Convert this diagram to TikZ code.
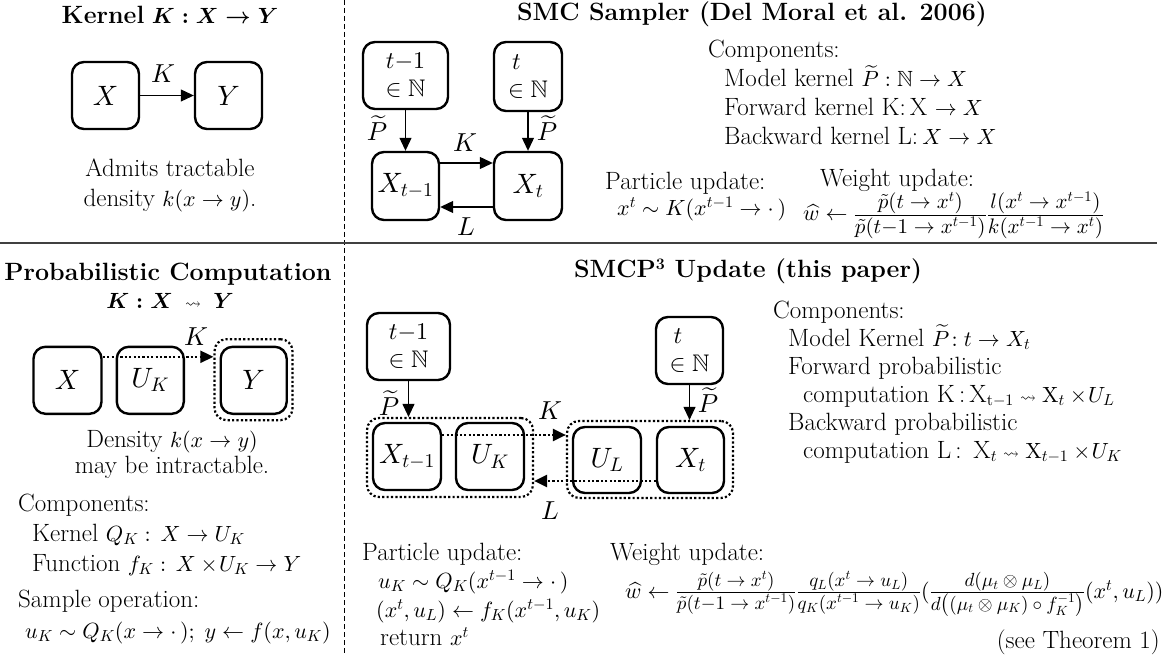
\documentclass[tikz,border=0pt]{standalone}
\usepackage{amsmath,amssymb}
\usetikzlibrary{arrows.meta}
% scalable math fonts for the large type used below
\DeclareFontShape{OML}{cmm}{m}{it}{<-6> cmmi5 <6-8> cmmi7 <8-> cmmi10}{}
\DeclareFontShape{OML}{cmm}{b}{it}{<-8> cmmib7 <8-> cmmib10}{}
\DeclareFontShape{OMS}{cmsy}{m}{n}{<-6> cmsy5 <6-8> cmsy7 <8-> cmsy10}{}
\DeclareFontShape{OMS}{cmsy}{b}{n}{<-8> cmbsy7 <8-> cmbsy10}{}
\DeclareFontShape{OT1}{cmr}{m}{n}{<-6> cmr5 <6-8> cmr7 <8-> cmr10}{}
\DeclareFontShape{OT1}{cmr}{bx}{n}{<-8> cmbx7 <8-> cmbx10}{}
\DeclareFontShape{OMX}{cmex}{m}{n}{<-> cmex10}{}
% math set a little smaller than the 25pt body text
\DeclareMathSizes{25}{22}{16}{12}
\newcommand{\sqto}{\mathrel{\scriptstyle\rightsquigarrow}}
\newcommand{\Ptil}{\widetilde{P}}
% fraction whose two parts are set at a chosen size
\newcommand{\ffrac}[3]{\frac{\hbox{\fontsize{#1}{#1}\selectfont$#2$}}%
  {\hbox{\fontsize{#1}{#1}\selectfont$#3$}}}
\tikzset{
  bodyfont/.style={font=\fontsize{25}{30}\selectfont},
  bx/.style={draw, line width=2.4pt, rounded corners=12pt, inner sep=0pt,
             font=\fontsize{28}{30}\selectfont},
  nbx/.style={bx, font=\fontsize{24}{30}\selectfont, align=center},
  grp/.style={draw, line width=2.2pt, dash pattern=on 2.2pt off 2.2pt,
              rounded corners=12pt, inner sep=0pt},
  arr/.style={line width=1.1pt, -{Triangle[length=13pt,width=12pt]}},
  darr/.style={line width=2.2pt, dash pattern=on 2.2pt off 2.2pt,
               -{Triangle[length=13pt,width=12pt]}},
  txt/.style={bodyfont, anchor=base west, inner sep=0pt},
  ctr/.style={bodyfont, anchor=base, inner sep=0pt},
  lbl/.style={font=\fontsize{26}{30}\selectfont, inner sep=0pt}
}
\begin{document}
\begin{tikzpicture}[x=1pt,y=-1pt]

\useasboundingbox (0,0) rectangle (1175,655);

% panel dividers
\coordinate (divTop) at (344,0);
\coordinate (divBot) at (344,655);
\coordinate (ruleL) at (0,243);
\coordinate (ruleR) at (1157,243);
\draw[line width=0.9pt, dash pattern=on 5pt off 3pt] (divTop) -- (divBot);
\draw[line width=1.6pt, black!75] (ruleL) -- (ruleR);

% ---------------- Kernel ----------------
\node[ctr] (kTitle) at (170,24) {\textbf{Kernel} $\boldsymbol{K : X \to Y}$};
\node[bx, minimum width=67pt, minimum height=67pt] (kX) at (105.5,95.5) {$X$};
\node[bx, minimum width=67pt, minimum height=67pt] (kY) at (228.5,95.5) {$Y$};
\draw[arr] (kX.east) -- (kY.west);
\node[lbl] (kK) at (163,74) {$K$};
\node[ctr] (kTxtA) at (170,177) {Admits tractable};
\node[ctr] (kTxtB) at (170,207) {density $k(x \to y)$.};

% ---------------- SMC sampler ----------------
\node[ctr] (sTitle) at (752,21) {\textbf{SMC Sampler (Del Moral et al. 2006)}};
\node[nbx, minimum width=85pt, minimum height=67pt] (sTm) at (405.5,75.5) {$t{-}1$\\[-2pt]$\in\mathbb{N}$};
\node[nbx, minimum width=68pt, minimum height=69pt, align=left] (sT) at (528,76.5) {\,$t$\\[-2pt]$\in\mathbb{N}$};
\node[bx, minimum width=67pt, minimum height=68pt] (sXm) at (405.5,186) {$X_{t-1}$};
\node[bx, minimum width=68pt, minimum height=68pt] (sX) at (528,186) {$X_t$};
\draw[arr] (sTm.south) -- (sXm.north);
\draw[arr] (sT.south) -- (sX.north);
\node[lbl] (sP1) at (377,128) {$\Ptil$};
\node[lbl] (sP2) at (547,128) {$\Ptil$};
\draw[arr] ([yshift=23pt]sXm.east) -- ([yshift=23pt]sX.west);
\draw[arr] ([yshift=-21pt]sX.west) -- ([yshift=-21pt]sXm.east);
\node[lbl] (sK) at (465,143) {$K$};
\node[lbl] (sL) at (466,227) {$L$};

\node[txt] (sC0) at (708,58) {Components:};
\node[txt] (sC1) at (724,87) {Model kernel $\Ptil:\mathbb{N}\to X$};
\node[txt] (sC2) at (724,116) {Forward kernel K:\,X $\to X$};
\node[txt] (sC3) at (724,145) {Backward kernel L:\,$X\to X$};
\node[txt] (sPU) at (605,190) {Particle update:};
\node[txt] (sPX) at (617,215) {$x^t \sim K(x^{t-1}\to\cdot\,)$};
\node[txt] (sWU) at (820,187) {Weight update:};
\node[txt] (sWF) at (803,221)
  {$\widehat{w} \leftarrow \ffrac{21}{\tilde p(t\to x^t)}{\tilde p(t{-}1\to x^{t-1})}
    \ffrac{21}{l(x^t\to x^{t-1})}{k(x^{t-1}\to x^t)}$};

% ---------------- Probabilistic computation ----------------
\node[ctr] (pTitle) at (168,280) {\textbf{Probabilistic Computation}};
\node[ctr] (pSig) at (170,308) {$\boldsymbol{K : X} \;\sqto\; \boldsymbol{Y}$};
\node[bx, minimum width=68pt, minimum height=67pt] (pX) at (67.5,380.3) {$X$};
\node[bx, minimum width=67pt, minimum height=67pt] (pU) at (150.3,380.3) {$U_K$};
\node[bx, minimum width=66pt, minimum height=67pt] (pY) at (253.7,380.3) {$Y$};
\node[grp, minimum width=78pt, minimum height=81pt] (pYg) at (253.5,379.7) {};
\draw[darr] ([yshift=23.5pt]pX.east) -- ([yshift=23.5pt]pX.east -| pYg.west);
\node[lbl] (pK) at (196,337) {$K$};
\node[ctr] (pTxtA) at (172,447) {Density $k(x \to y)$};
\node[ctr] (pTxtB) at (172,473) {may be intractable.};
\node[txt] (pC0) at (18,511) {Components:};
\node[txt] (pC1) at (32,541) {Kernel $Q_K :\, X \to U_K$};
\node[txt] (pC2) at (32,571) {Function $f_K :\, X \times\! U_K \to Y$};
\node[txt] (pS0) at (18,607) {Sample operation:};
\node[txt] (pS1) at (25,638) {$u_K \sim Q_K(x\to\cdot\,);\; y \leftarrow f(x,u_K)$};

% ---------------- SMCP3 update ----------------
\node[ctr] (mTitle) at (748,277) {\textbf{SMCP\textsuperscript{3} Update (this paper)}};
\node[nbx, minimum width=83pt, minimum height=67pt] (mTm) at (408.5,346.5) {$t{-}1$\\[-2pt]$\in\mathbb{N}$};
\node[nbx, minimum width=67pt, minimum height=67pt, align=left] (mT) at (689.5,350.5) {\,$t$\\[-2pt]$\in\mathbb{N}$};
\node[bx, minimum width=68pt, minimum height=67pt] (mXm) at (407,456.5) {$X_{t-1}$};
\node[bx, minimum width=68pt, minimum height=67pt] (mUK) at (490,456.5) {$U_K$};
\node[grp, minimum width=166pt, minimum height=79pt] (g1) at (450,457.5) {};
\node[bx, minimum width=68pt, minimum height=66pt] (mUL) at (607,460) {$U_L$};
\node[bx, minimum width=67pt, minimum height=66pt] (mX) at (690.5,460) {$X_t$};
\node[grp, minimum width=166pt, minimum height=77pt] (g2) at (650,459.5) {};
\draw[arr] (mTm.south) -- (mTm.south |- g1.north);
\draw[arr] (mT.south) -- (mT.south |- g2.north);
\node[lbl] (mP1) at (389,403) {$\Ptil$};
\node[lbl] (mP2) at (708,400) {$\Ptil$};
\draw[darr] ([yshift=21.5pt]mXm.east) -- ([yshift=21.5pt]mXm.east -| g2.west);
\draw[darr] ([yshift=-21pt]mX.west) -- ([yshift=-21pt]mX.west -| g1.east);
\node[lbl] (mK) at (550,411) {$K$};
\node[lbl] (mL) at (550,511) {$L$};

\node[txt] (mC0) at (773,318) {Components:};
\node[txt] (mC1) at (788,346) {Model Kernel $\Ptil\!: t \to X_t$};
\node[txt] (mC2) at (788,374) {Forward probabilistic};
\node[txt] (mC3) at (803,402) {computation K\,:\,X$_{\mathrm{t-1}} \sqto \mathrm{X}_t \times\! U_L$};
\node[txt] (mC4) at (788,430) {Backward probabilistic};
\node[txt] (mC5) at (803,458) {computation L\,:\, X$_t \sqto \mathrm{X}_{t-1} \times\! U_K$};

\node[txt] (mPU) at (362,560) {Particle update:};
\node[txt] (mPa) at (378,588) {$u_K \sim Q_K(x^{t-1}\to\cdot\,)$};
\node[txt] (mPb) at (376,617) {$(x^t,u_L) \leftarrow f_K(x^{t-1},u_K)$};
\node[txt] (mPc) at (380,645) {return $x^t$};
\node[txt] (mWU) at (610,560) {Weight update:};
\node[txt] (mWF) at (625,598)
  {$\widehat{w} \leftarrow \ffrac{19}{\tilde p(t\to x^t)}{\tilde p(t{-}1\to x^{t-1})}
    \ffrac{19}{q_L(x^t\to u_L)}{q_K(x^{t-1}\to u_K)}
    (\ffrac{19}{d(\mu_t\otimes\mu_L)}{d\bigl((\mu_t\otimes\mu_K)\circ f_K^{-1}\bigr)}(x^t,u_L))$};
\node[bodyfont, anchor=base east, inner sep=0pt] (mThm) at (1160,648) {(see Theorem 1)};

\end{tikzpicture}
\end{document}
